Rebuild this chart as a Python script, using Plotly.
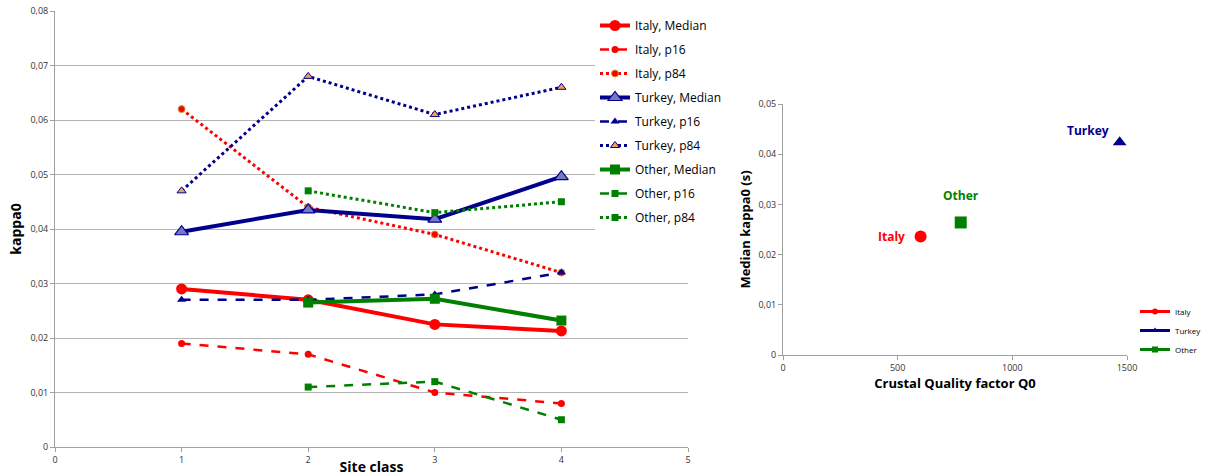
import plotly.graph_objects as go

# ---------------- data ----------------
site_class = [1, 2, 3, 4]

italy_median = [0.0290, 0.0270, 0.0225, 0.0213]
italy_p16 = [0.0190, 0.0170, 0.0100, 0.0080]
italy_p84 = [0.0620, 0.0440, 0.0390, 0.0320]

turkey_median = [0.0395, 0.0435, 0.0418, 0.0496]
turkey_p16 = [0.0270, 0.0270, 0.0280, 0.0320]
turkey_p84 = [0.0470, 0.0680, 0.0610, 0.0660]

other_median = [None, 0.0265, 0.0272, 0.0232]
other_p16 = [None, 0.0110, 0.0120, 0.0050]
other_p84 = [None, 0.0470, 0.0430, 0.0450]

regions = ["Italy", "Turkey", "Other"]
q0_values = [600, 1468, 775]
median_kappa = [0.0236, 0.0424, 0.0264]

RED = "#ff0000"
NAVY = "#00008c"
GREEN = "#008000"
FONT = "Open Sans"

fig = go.Figure()

def add_line(name, y, color, dash, width, symbol, msize, mfill, mline, mlw):
    fig.add_trace(go.Scatter(
        x=site_class, y=y, name=name, mode="lines+markers",
        line=dict(color=color, dash=dash, width=width),
        marker=dict(symbol=symbol, size=msize, color=mfill,
                    line=dict(color=mline, width=mlw)),
        connectgaps=False, legendgroup=name, legend="legend",
        xaxis="x", yaxis="y",
    ))

add_line("Italy, Median", italy_median, RED, "solid", 4, "circle", 11, RED, RED, 0)
add_line("Italy, p16", italy_p16, RED, "dash", 2.5, "circle", 7, RED, RED, 0)
add_line("Italy, p84", italy_p84, RED, "dot", 3, "circle", 7, RED, "#c8a040", 1)
add_line("Turkey, Median", turkey_median, NAVY, "solid", 4, "triangle-up", 12, "#7878c0", NAVY, 1.2)
add_line("Turkey, p16", turkey_p16, NAVY, "dash", 2.5, "triangle-up", 8, NAVY, NAVY, 0)
add_line("Turkey, p84", turkey_p84, NAVY, "dot", 3, "triangle-up", 8, "#f0a050", NAVY, 1)
add_line("Other, Median", other_median, GREEN, "solid", 4, "square", 10, GREEN, GREEN, 0)
add_line("Other, p16", other_p16, GREEN, "dash", 2.5, "square", 7, GREEN, GREEN, 0)
add_line("Other, p84", other_p84, GREEN, "dot", 3, "square", 7, GREEN, GREEN, 0)

# ---------------- right chart ----------------
sym = {"Italy": "circle", "Turkey": "triangle-up", "Other": "square"}
col = {"Italy": RED, "Turkey": NAVY, "Other": GREEN}
shift = {"Italy": (-29, 0), "Turkey": (-32, 12), "Other": (0, 27)}
for r, q, k in zip(regions, q0_values, median_kappa):
    fig.add_trace(go.Scatter(
        x=[q], y=[k], name=r, mode="markers",
        marker=dict(symbol=sym[r], size=12, color=col[r]),
        showlegend=False, xaxis="x2", yaxis="y2",
    ))
    # legend entry (small symbols like the original)
    fig.add_trace(go.Scatter(
        x=[None], y=[None], name=r, mode="lines+markers",
        line=dict(color=col[r], width=3),
        marker=dict(symbol=sym[r], size=6, color=col[r]),
        legend="legend2", xaxis="x2", yaxis="y2",
    ))
    fig.add_annotation(
        x=q, y=k, xref="x2", yref="y2", text=f"<b>{r}</b>", showarrow=False,
        xshift=shift[r][0], yshift=shift[r][1],
        font=dict(family=FONT, size=12, color=col[r]),
    )

axis_common = dict(
    showline=True, linecolor="#a0a0a0", linewidth=1, ticks="outside",
    tickcolor="#a0a0a0", ticklen=4, mirror=False, zeroline=False,
    automargin=False,
    tickfont=dict(family=FONT, size=9, color="#333333"),
)

fig.update_layout(
    width=1207, height=476, margin=dict(l=0, r=0, t=0, b=0, autoexpand=False),
    paper_bgcolor="white", plot_bgcolor="white",
    separators=", ",
    font=dict(family=FONT, color="#000000"),
    xaxis=dict(domain=[55/1207, 688/1207], range=[0, 5], dtick=1,
               showgrid=False, anchor="y",
               title=dict(text="<b>Site class</b>", standoff=2,
                          font=dict(family=FONT, size=14)),
               **axis_common),
    yaxis=dict(domain=[29/476, 465/476], range=[0, 0.08], dtick=0.01,
               showgrid=True, gridcolor="#b4b4b4", gridwidth=1, anchor="x",
               title=dict(text="<b>kappa0</b>", standoff=5,
                          font=dict(family=FONT, size=14)),
               **axis_common),
    xaxis2=dict(domain=[783/1207, 1127/1207], range=[0, 1500], dtick=500,
                showgrid=False, anchor="y2",
                title=dict(text="<b>Crustal Quality factor Q0</b>", standoff=6,
                           font=dict(family=FONT, size=13)),
                **axis_common),
    yaxis2=dict(domain=[121/476, 372/476], range=[0, 0.05], dtick=0.01,
                showgrid=False, anchor="x2",
                title=dict(text="<b>Median kappa0 (s)</b>", standoff=4,
                           font=dict(family=FONT, size=13)),
                **axis_common),
    legend=dict(x=595/1207, y=1 - 11/476, xanchor="left", yanchor="top",
                bgcolor="white", tracegroupgap=5,
                font=dict(family=FONT, size=12, color="#000000"),
                itemwidth=30),
    legend2=dict(x=1.0, y=1 - 297/476, xanchor="right", yanchor="top",
                 bgcolor="rgba(0,0,0,0)", tracegroupgap=0,
                 font=dict(family=FONT, size=8, color="#000000"),
                 itemwidth=30),
)

fig.write_html("out.html")
